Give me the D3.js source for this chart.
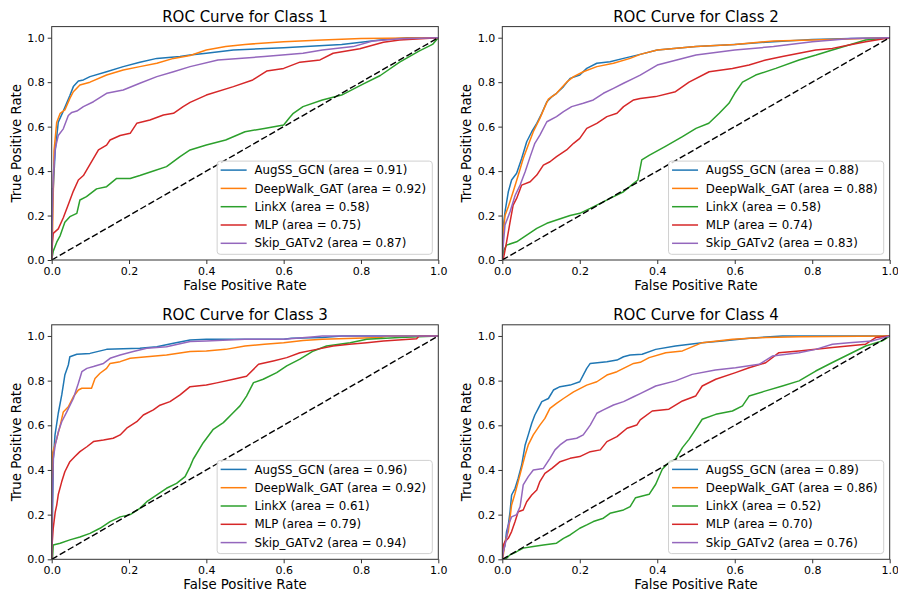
<!DOCTYPE html>
<html>
<head>
<meta charset="utf-8">
<script src="https://cdn.jsdelivr.net/npm/d3@7"></script>
<style>
  body { margin: 0; background: #fff; }
  svg { font-family: "DejaVu Sans", sans-serif; }
  .tick text { fill: #000; }
  .tick line { stroke: #333; }
</style>
</head>
<body>
<svg id="chart"></svg>
<script>
const width = 898;
const height = 592;

const models = ["AugSS_GCN", "DeepWalk_GAT", "LinkX", "MLP", "Skip_GATv2"];
const colors = ["#1f77b4", "#ff7f0e", "#2ca02c", "#d62728", "#9467bd"];
const ticks = [0, 0.2, 0.4, 0.6, 0.8, 1.0];

const class1Auc = [0.91, 0.92, 0.58, 0.75, 0.87];
const class2Auc = [0.88, 0.88, 0.58, 0.74, 0.83];
const class3Auc = [0.96, 0.92, 0.61, 0.79, 0.94];
const class4Auc = [0.89, 0.86, 0.52, 0.70, 0.76];

// [fpr, tpr] points, model order as above
const class1Curves = [
  [[0,0],[0,0.32],[0.004,0.32],[0.009,0.49],[0.017,0.62],[0.03,0.67],[0.047,0.74],[0.056,0.78],[0.069,0.805],[0.082,0.81],[0.099,0.825],[0.142,0.847],[0.185,0.87],[0.228,0.89],[0.272,0.907],[0.332,0.915],[0.358,0.922],[0.4,0.93],[0.47,0.945],[0.6,0.955],[0.75,0.97],[0.85,0.99],[0.92,1.0],[1,1]],
  [[0,0],[0.002,0.1],[0.006,0.49],[0.013,0.62],[0.022,0.66],[0.034,0.675],[0.047,0.727],[0.056,0.757],[0.073,0.787],[0.099,0.8],[0.142,0.832],[0.185,0.855],[0.228,0.87],[0.272,0.885],[0.315,0.907],[0.358,0.92],[0.4,0.945],[0.45,0.96],[0.5,0.97],[0.6,0.982],[0.7,0.99],[0.8,0.997],[1,1]],
  [[0,0],[0.004,0.04],[0.013,0.08],[0.022,0.11],[0.034,0.17],[0.047,0.195],[0.065,0.21],[0.073,0.27],[0.09,0.285],[0.116,0.32],[0.142,0.33],[0.168,0.367],[0.203,0.367],[0.228,0.38],[0.263,0.4],[0.297,0.42],[0.332,0.465],[0.358,0.495],[0.4,0.517],[0.45,0.54],[0.5,0.577],[0.55,0.592],[0.6,0.607],[0.615,0.64],[0.625,0.66],[0.65,0.69],[0.7,0.72],[0.75,0.742],[0.8,0.787],[0.85,0.83],[0.9,0.89],[0.95,0.94],[0.985,0.97],[1,1]],
  [[0,0],[0.002,0.08],[0.004,0.12],[0.017,0.14],[0.03,0.19],[0.043,0.25],[0.056,0.31],[0.069,0.36],[0.082,0.38],[0.099,0.43],[0.121,0.495],[0.142,0.517],[0.151,0.54],[0.177,0.56],[0.203,0.57],[0.22,0.615],[0.254,0.63],[0.289,0.652],[0.315,0.66],[0.34,0.69],[0.358,0.709],[0.4,0.742],[0.47,0.78],[0.52,0.81],[0.556,0.85],[0.6,0.862],[0.642,0.89],[0.694,0.9],[0.728,0.93],[0.797,0.95],[0.858,0.98],[0.9,0.99],[1,1]],
  [[0,0],[0.001,0.13],[0.004,0.38],[0.009,0.5],[0.017,0.56],[0.03,0.59],[0.043,0.65],[0.052,0.664],[0.065,0.67],[0.082,0.69],[0.108,0.712],[0.142,0.75],[0.185,0.765],[0.228,0.795],[0.272,0.825],[0.315,0.847],[0.358,0.87],[0.43,0.9],[0.55,0.915],[0.65,0.93],[0.7,0.945],[0.78,0.96],[0.83,0.985],[0.9,0.995],[1,1]]
];

const class2Curves = [
  [[0,0],[0.003,0.157],[0.007,0.217],[0.0155,0.307],[0.024,0.36],[0.037,0.39],[0.05,0.457],[0.063,0.532],[0.076,0.577],[0.089,0.615],[0.102,0.66],[0.115,0.712],[0.128,0.735],[0.14,0.75],[0.158,0.78],[0.175,0.817],[0.2,0.832],[0.218,0.862],[0.244,0.885],[0.278,0.892],[0.313,0.907],[0.356,0.925],[0.4,0.945],[0.5,0.96],[0.6,0.97],[0.7,0.982],[0.8,0.992],[0.9,0.997],[1,1]],
  [[0,0],[0.001,0.1],[0.007,0.2],[0.0155,0.24],[0.028,0.307],[0.041,0.38],[0.054,0.457],[0.067,0.517],[0.08,0.577],[0.097,0.637],[0.11,0.69],[0.119,0.724],[0.14,0.75],[0.166,0.8],[0.184,0.825],[0.209,0.847],[0.244,0.87],[0.287,0.885],[0.33,0.907],[0.356,0.925],[0.4,0.945],[0.5,0.96],[0.6,0.97],[0.7,0.985],[0.8,0.99],[1,1]],
  [[0,0],[0.003,0.04],[0.011,0.067],[0.037,0.082],[0.063,0.112],[0.089,0.142],[0.115,0.165],[0.14,0.18],[0.175,0.2],[0.2,0.21],[0.227,0.232],[0.253,0.255],[0.278,0.277],[0.313,0.307],[0.339,0.345],[0.35,0.36],[0.36,0.45],[0.38,0.472],[0.42,0.51],[0.465,0.555],[0.5,0.592],[0.533,0.615],[0.56,0.66],[0.585,0.705],[0.6,0.75],[0.62,0.8],[0.654,0.832],[0.706,0.862],[0.766,0.9],[0.81,0.922],[0.852,0.945],[0.895,0.967],[0.938,0.99],[1,1]],
  [[0,0],[0.003,0.007],[0.011,0.08],[0.02,0.17],[0.028,0.247],[0.037,0.277],[0.05,0.337],[0.072,0.352],[0.089,0.382],[0.106,0.427],[0.123,0.442],[0.14,0.465],[0.166,0.495],[0.184,0.525],[0.2,0.547],[0.218,0.592],[0.244,0.615],[0.27,0.645],[0.296,0.66],[0.313,0.69],[0.339,0.72],[0.356,0.727],[0.396,0.735],[0.447,0.757],[0.482,0.8],[0.534,0.847],[0.594,0.862],[0.637,0.877],[0.68,0.9],[0.723,0.915],[0.766,0.93],[0.809,0.945],[0.852,0.952],[0.895,0.967],[0.938,0.982],[1,1]],
  [[0,0],[0.001,0.04],[0.007,0.157],[0.02,0.217],[0.033,0.29],[0.046,0.337],[0.059,0.397],[0.072,0.465],[0.084,0.525],[0.097,0.562],[0.115,0.622],[0.14,0.645],[0.158,0.667],[0.179,0.69],[0.209,0.705],[0.235,0.72],[0.261,0.75],[0.287,0.772],[0.313,0.795],[0.339,0.817],[0.356,0.832],[0.4,0.877],[0.45,0.9],[0.5,0.922],[0.6,0.945],[0.7,0.96],[0.8,0.982],[0.9,0.997],[1,1]]
];

const class3Curves = [
  [[0,0],[0.0017,0.154],[0.0043,0.45],[0.0086,0.557],[0.017,0.654],[0.026,0.736],[0.034,0.825],[0.043,0.87],[0.047,0.907],[0.065,0.918],[0.099,0.922],[0.142,0.94],[0.228,0.945],[0.272,0.952],[0.315,0.967],[0.358,0.982],[0.4,0.985],[0.6,0.985],[0.62,0.99],[0.7,0.993],[0.75,1.0],[1,1]],
  [[0,0],[0.001,0.3],[0.003,0.48],[0.013,0.54],[0.022,0.6],[0.03,0.66],[0.043,0.683],[0.056,0.728],[0.069,0.758],[0.078,0.766],[0.103,0.766],[0.112,0.81],[0.125,0.833],[0.142,0.855],[0.151,0.877],[0.177,0.885],[0.203,0.9],[0.246,0.907],[0.297,0.915],[0.358,0.93],[0.4,0.933],[0.45,0.94],[0.5,0.955],[0.55,0.963],[0.6,0.97],[0.65,0.98],[0.7,0.985],[0.85,0.993],[0.87,1.0],[1,1]],
  [[0,0],[0.002,0],[0.004,0.064],[0.022,0.072],[0.047,0.087],[0.073,0.1],[0.099,0.116],[0.125,0.139],[0.151,0.169],[0.177,0.19],[0.203,0.2],[0.228,0.228],[0.246,0.258],[0.272,0.288],[0.297,0.318],[0.323,0.34],[0.345,0.37],[0.358,0.415],[0.366,0.448],[0.392,0.522],[0.418,0.582],[0.444,0.612],[0.47,0.657],[0.487,0.687],[0.504,0.731],[0.522,0.791],[0.547,0.806],[0.582,0.836],[0.608,0.866],[0.642,0.896],[0.677,0.933],[0.711,0.955],[0.772,0.97],[0.815,0.985],[0.9,0.993],[1,1]],
  [[0,0],[0.001,0.064],[0.004,0.14],[0.009,0.21],[0.013,0.243],[0.017,0.29],[0.026,0.348],[0.034,0.392],[0.047,0.437],[0.06,0.46],[0.073,0.482],[0.091,0.504],[0.108,0.527],[0.134,0.534],[0.159,0.542],[0.177,0.557],[0.194,0.587],[0.22,0.616],[0.237,0.646],[0.263,0.669],[0.28,0.69],[0.306,0.706],[0.332,0.736],[0.358,0.773],[0.4,0.78],[0.427,0.79],[0.47,0.806],[0.504,0.82],[0.535,0.873],[0.573,0.888],[0.608,0.903],[0.642,0.925],[0.685,0.94],[0.728,0.955],[0.77,0.963],[0.815,0.97],[0.858,0.978],[0.944,0.988],[0.95,1.0],[1,1]],
  [[0,0],[0.001,0.21],[0.004,0.45],[0.009,0.51],[0.017,0.57],[0.026,0.616],[0.039,0.66],[0.056,0.72],[0.069,0.788],[0.078,0.84],[0.091,0.855],[0.108,0.863],[0.134,0.877],[0.151,0.9],[0.177,0.915],[0.211,0.93],[0.246,0.945],[0.297,0.952],[0.358,0.975],[0.4,0.978],[0.5,0.985],[0.6,0.985],[0.68,0.997],[0.7,1.0],[1,1]]
];

const class4Curves = [
  [[0,0],[0.0026,0.034],[0.007,0.064],[0.011,0.124],[0.0155,0.154],[0.02,0.213],[0.024,0.288],[0.033,0.318],[0.041,0.363],[0.05,0.422],[0.059,0.512],[0.067,0.557],[0.076,0.609],[0.084,0.646],[0.093,0.676],[0.102,0.706],[0.119,0.72],[0.132,0.758],[0.149,0.773],[0.175,0.78],[0.2,0.795],[0.218,0.855],[0.227,0.877],[0.27,0.885],[0.296,0.892],[0.313,0.907],[0.33,0.915],[0.361,0.918],[0.396,0.94],[0.447,0.955],[0.516,0.97],[0.568,0.978],[0.637,0.99],[0.723,1.0],[1,1]],
  [[0,0],[0.0026,0.02],[0.007,0.079],[0.0155,0.124],[0.024,0.243],[0.033,0.296],[0.041,0.348],[0.05,0.407],[0.059,0.467],[0.067,0.512],[0.08,0.557],[0.097,0.601],[0.11,0.631],[0.123,0.676],[0.14,0.698],[0.158,0.72],[0.184,0.75],[0.218,0.78],[0.244,0.795],[0.27,0.825],[0.296,0.84],[0.322,0.863],[0.339,0.877],[0.356,0.882],[0.379,0.903],[0.422,0.925],[0.465,0.933],[0.516,0.97],[0.594,0.985],[0.68,0.993],[0.766,0.997],[1,1]],
  [[0,0],[0.011,0.005],[0.02,0.02],[0.037,0.034],[0.054,0.05],[0.08,0.057],[0.106,0.064],[0.14,0.072],[0.158,0.094],[0.175,0.109],[0.2,0.139],[0.218,0.154],[0.235,0.169],[0.261,0.184],[0.278,0.206],[0.313,0.221],[0.33,0.236],[0.344,0.276],[0.379,0.291],[0.396,0.336],[0.413,0.403],[0.43,0.433],[0.447,0.448],[0.465,0.5],[0.482,0.537],[0.499,0.582],[0.516,0.627],[0.551,0.649],[0.594,0.664],[0.62,0.687],[0.637,0.731],[0.68,0.754],[0.723,0.776],[0.766,0.799],[0.809,0.843],[0.852,0.881],[0.895,0.918],[0.938,0.955],[0.981,0.978],[1,1]],
  [[0,0],[0.0026,0.064],[0.007,0.079],[0.0155,0.094],[0.024,0.124],[0.033,0.169],[0.041,0.213],[0.054,0.221],[0.063,0.258],[0.076,0.288],[0.089,0.31],[0.097,0.348],[0.11,0.385],[0.128,0.407],[0.149,0.437],[0.175,0.452],[0.2,0.46],[0.227,0.482],[0.253,0.49],[0.27,0.527],[0.296,0.549],[0.322,0.587],[0.347,0.601],[0.356,0.624],[0.387,0.664],[0.43,0.672],[0.465,0.709],[0.499,0.731],[0.516,0.776],[0.551,0.806],[0.602,0.836],[0.637,0.858],[0.68,0.88],[0.714,0.925],[0.766,0.933],[0.809,0.94],[0.852,0.948],[0.938,0.963],[0.964,0.993],[1,1]],
  [[0,0],[0.0026,0.034],[0.011,0.094],[0.0155,0.154],[0.024,0.19],[0.037,0.2],[0.046,0.236],[0.054,0.333],[0.067,0.37],[0.08,0.4],[0.106,0.407],[0.123,0.452],[0.136,0.49],[0.149,0.512],[0.166,0.534],[0.192,0.542],[0.209,0.557],[0.227,0.601],[0.244,0.654],[0.261,0.669],[0.287,0.691],[0.313,0.706],[0.339,0.728],[0.356,0.742],[0.396,0.776],[0.447,0.799],[0.49,0.828],[0.55,0.848],[0.602,0.858],[0.663,0.873],[0.697,0.91],[0.766,0.925],[0.809,0.94],[0.852,0.963],[0.895,0.97],[0.955,0.978],[1,1]]
];

const panels = [
  { title: "ROC Curve for Class 1", curves: class1Curves, auc: class1Auc, left: 51.7, right: 438.3, top: 26.6, bottom: 260 },
  { title: "ROC Curve for Class 2", curves: class2Curves, auc: class2Auc, left: 502.3, right: 889.7, top: 26.6, bottom: 260 },
  { title: "ROC Curve for Class 3", curves: class3Curves, auc: class3Auc, left: 51.7, right: 438.3, top: 324.8, bottom: 559.3 },
  { title: "ROC Curve for Class 4", curves: class4Curves, auc: class4Auc, left: 502.3, right: 889.7, top: 324.8, bottom: 559.3 }
];

var svg = d3.select("#chart").attr("width", width).attr("height", height);

panels.forEach(function(p, pi) {
  var x = d3.scaleLinear().domain([0, 1]).range([p.left, p.right]);
  var y = d3.scaleLinear().domain([0, 1.05]).range([p.bottom, p.top]);
  var g = svg.append("g");

  g.append("clipPath").attr("id", "clip" + pi)
    .append("rect")
    .attr("x", p.left).attr("y", p.top)
    .attr("width", p.right - p.left).attr("height", p.bottom - p.top);

  var line = d3.line().x(d => x(d[0])).y(d => y(d[1]));

  var plot = g.append("g").attr("clip-path", "url(#clip" + pi + ")");
  plot.selectAll("path.roc")
    .data(p.curves)
    .enter()
    .append("path")
    .attr("class", "roc")
    .attr("d", d => line(d))
    .attr("fill", "none")
    .attr("stroke", (d, i) => colors[i])
    .attr("stroke-width", 1.5)
    .attr("stroke-linejoin", "round");

  plot.append("path")
    .attr("d", line([[0, 0], [1, 1]]))
    .attr("fill", "none")
    .attr("stroke", "#000")
    .attr("stroke-width", 1.4)
    .attr("stroke-dasharray", "6.5,2.8");

  var xAxis = d3.axisBottom(x).tickValues(ticks).tickFormat(d3.format(".1f")).tickSize(4).tickPadding(3);
  var yAxis = d3.axisLeft(y).tickValues(ticks).tickFormat(d3.format(".1f")).tickSize(4).tickPadding(3);

  g.append("g").attr("transform", `translate(0,${p.bottom})`).call(xAxis)
    .call(a => a.select(".domain").remove())
    .selectAll("text").attr("font-size", 11).attr("font-family", "DejaVu Sans");
  g.append("g").attr("transform", `translate(${p.left},0)`).call(yAxis)
    .call(a => a.select(".domain").remove())
    .selectAll("text").attr("font-size", 11).attr("font-family", "DejaVu Sans");

  g.append("rect")
    .attr("x", p.left).attr("y", p.top)
    .attr("width", p.right - p.left).attr("height", p.bottom - p.top)
    .attr("fill", "none").attr("stroke", "#333").attr("stroke-width", 1);

  var cx = (p.left + p.right) / 2;
  g.append("text")
    .attr("x", cx).attr("y", p.top - 5)
    .attr("text-anchor", "middle").attr("font-size", 15)
    .text(p.title);

  g.append("text")
    .attr("x", cx).attr("y", p.bottom + 29.5)
    .attr("text-anchor", "middle").attr("font-size", 13.3)
    .text("False Positive Rate");

  g.append("text")
    .attr("transform", `translate(${p.left - 31},${(p.top + p.bottom) / 2}) rotate(-90)`)
    .attr("text-anchor", "middle").attr("font-size", 13.3)
    .text("True Positive Rate");

  // legend
  var rowH = 18.3;
  var legH = 9 + 4 * rowH + 11;
  var leg = g.append("g");
  var box = leg.append("rect")
    .attr("fill", "#fff").attr("fill-opacity", 0.8)
    .attr("stroke", "#d0d0d0").attr("stroke-width", 1)
    .attr("rx", 3);
  var labels = leg.selectAll("text")
    .data(models)
    .enter()
    .append("text")
    .attr("font-size", 11.8)
    .attr("dy", "0.35em")
    .text((d, i) => `${d} (area = ${p.auc[i].toFixed(2)})`);
  var maxW = d3.max(labels.nodes(), n => n.getComputedTextLength());
  var legW = maxW + 43.5;
  var lx = p.right - 6 - legW;
  var ly = p.bottom - 5.7 - legH;
  box.attr("x", lx).attr("y", ly).attr("width", legW).attr("height", legH);
  labels.attr("x", lx + 37.3).attr("y", (d, i) => ly + 9 + i * rowH);
  leg.selectAll("line")
    .data(models)
    .enter()
    .append("line")
    .attr("x1", lx + 3.5).attr("x2", lx + 29.5)
    .attr("y1", (d, i) => ly + 9 + i * rowH)
    .attr("y2", (d, i) => ly + 9 + i * rowH)
    .attr("stroke", (d, i) => colors[i])
    .attr("stroke-width", 1.5);
});
</script>
</body>
</html>
